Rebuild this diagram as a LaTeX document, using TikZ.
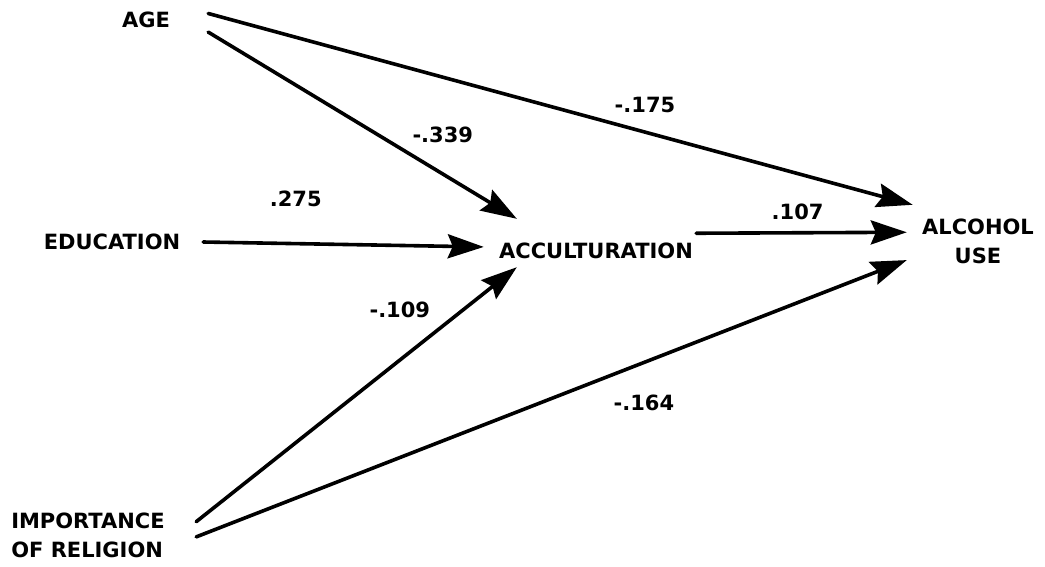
\documentclass[tikz,border=0pt]{standalone}
\usepackage{fontspec}
\setmainfont{DejaVu Sans}
\usetikzlibrary{arrows.meta, quotes}
\tikzset{
  every edge quotes/.style = {inner sep = 0pt, font = \bfseries\fontsize{21}{29}\selectfont},
  > = {Stealth[length = 36pt, width = 24pt, inset = 5pt]},
  construct/.style = {inner sep = 0pt, align = center,
    font = \bfseries\fontsize{21}{29}\selectfont},
  effect/.style = {->, line width = 3.6pt, line cap = round}
}
\begin{document}
\begin{tikzpicture}[x = 1pt, y = -1pt]
\useasboundingbox (0, 0) rectangle (1045, 566);

\node [construct, minimum width = 124pt, minimum height = 26pt] (age) at (146, 20) {AGE};
\node [construct, minimum width = 182pt] (edu) at (112, 242) {EDUCATION};
\node [construct, minimum width = 224pt, minimum height = 48pt,
  text height = 30pt, text depth = 0pt] (acc) at (596, 243) {ACCULTURATION};
\node [construct, minimum width = 142pt, minimum height = 72pt] (alc) at (978, 241) {ALCOHOL\\USE};
\node [construct, align = left, minimum width = 216pt, minimum height = 60pt] (rel) at (88, 535) {IMPORTANCE\\OF RELIGION};

\path [effect] (age.6) edge ["-.175" {above = 17pt, pos = .62}] (alc.151);
\path [effect] (age.349) edge ["-.339" {above = 29pt, pos = .76}] (acc.163);
\path [effect] (edu.east) edge [".275" {above = 35pt, pos = .33}] (acc.182);
\path [effect, shorten < = -12pt] (acc.5) edge [".107" {above = 11pt, pos = .45}] (alc.173);

\path [effect] (rel.7) edge ["-.109" {above = 41pt, pos = .635}] (acc.197);
\path [effect] (rel.359) edge ["-.164" {below = 31pt, pos = .63}] (alc.195);

\end{tikzpicture}
\end{document}
